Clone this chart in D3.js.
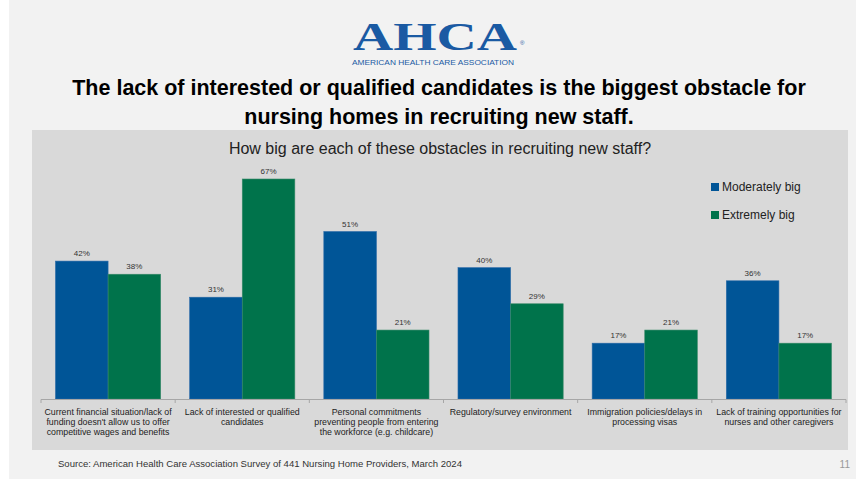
<!DOCTYPE html>
<html><head><meta charset="utf-8">
<script src="https://cdn.jsdelivr.net/npm/d3@7"></script>
<style>body{margin:0;background:#fff}svg{display:block}</style>
</head><body>
<script>
const categories = [
  ["Current financial situation/lack of","funding doesn't allow us to offer","competitive wages and benefits"],
  ["Lack of interested or qualified","candidates"],
  ["Personal commitments","preventing people from entering","the workforce (e.g. childcare)"],
  ["Regulatory/survey environment"],
  ["Immigration policies/delays in","processing visas"],
  ["Lack of training opportunities for","nurses and other caregivers"]
];
const seriesNames = ["Moderately big","Extremely big"];
const moderately = [42,31,51,40,17,36];
const extremely = [38,67,21,29,21,17];
const colors = ["#005597","#00734b"];

const W=856,H=479;
const svg=d3.select("body").append("svg").attr("width",W).attr("height",H);
svg.append("rect").attr("x",9).attr("y",0).attr("width",W-9).attr("height",H).attr("fill","#f2f2f2");
svg.append("rect").attr("x",32).attr("y",130).attr("width",816).attr("height",320).attr("fill","#d9d9d9");

// logo
svg.append("text").attr("x",435).attr("y",50).attr("text-anchor","middle")
  .attr("font-family","Liberation Serif").attr("font-weight","bold").attr("font-size",40)
  .attr("fill","#1a5aa3").attr("textLength",164).attr("lengthAdjust","spacingAndGlyphs").text("AHCA");
svg.append("text").attr("x",520).attr("y",45).attr("font-family","Liberation Sans").attr("font-size",6).attr("fill","#1a5aa3").text("®");
svg.append("text").attr("x",433).attr("y",64.5).attr("text-anchor","middle")
  .attr("font-family","Liberation Sans").attr("font-size",6.5).attr("fill","#1a5aa3")
  .attr("textLength",162).attr("lengthAdjust","spacingAndGlyphs").text("AMERICAN HEALTH CARE ASSOCIATION");

// title
const title=["The lack of interested or qualified candidates is the biggest obstacle for","nursing homes in recruiting new staff."];
title.forEach((t,i)=>svg.append("text").attr("x",439).attr("y",95+i*29).attr("text-anchor","middle")
  .attr("font-family","Liberation Sans").attr("font-weight","bold").attr("font-size",21.5).attr("fill","#000").text(t));

svg.append("text").attr("x",440).attr("y",154).attr("text-anchor","middle")
  .attr("font-family","Liberation Sans").attr("font-size",16).attr("fill","#222").text("How big are each of these obstacles in recruiting new staff?");

const x0=d3.scaleBand().domain(d3.range(categories.length)).range([41,846]).paddingInner(0.216).paddingOuter(0.108);
const x1=d3.scaleBand().domain([0,1]).range([0,x0.bandwidth()]);
const y=d3.scaleLinear().domain([0,67]).range([399,179]);

const g=svg.append("g");
const data=categories.map((c,i)=>[moderately[i],extremely[i]]);
data.forEach((vals,i)=>{
  vals.forEach((v,j)=>{
    const bx=x0(i)+x1(j);
    g.append("rect").attr("x",bx).attr("y",y(v)).attr("width",x1.bandwidth()).attr("height",y(0)-y(v))
      .attr("fill",colors[j]).attr("stroke",j==0?"#2a6aa8":"#3a8a6a").attr("stroke-width",0.6);
    g.append("text").attr("x",bx+x1.bandwidth()/2).attr("y",y(v)-5).attr("text-anchor","middle")
      .attr("font-family","Liberation Sans").attr("font-size",8).attr("fill","#333").text(v+"%");
  });
});

// axis
const axisG=svg.append("g");
axisG.append("line").attr("x1",41).attr("x2",846).attr("y1",399.5).attr("y2",399.5).attr("stroke","#a6a6a6");
d3.range(categories.length+1).forEach(i=>{
  const tx=41+i*(805/categories.length);
  axisG.append("line").attr("x1",tx).attr("x2",tx).attr("y1",399.5).attr("y2",403).attr("stroke","#a6a6a6");
});
categories.forEach((lines,i)=>{
  const cx=x0(i)+x0.bandwidth()/2;
  lines.forEach((l,k)=>svg.append("text").attr("x",cx).attr("y",415+k*10).attr("text-anchor","middle")
    .attr("font-family","Liberation Sans").attr("font-size",8.8).attr("fill","#222").text(l));
});

// legend
seriesNames.forEach((n,i)=>{
  svg.append("rect").attr("x",711).attr("y",183+i*28).attr("width",8).attr("height",8).attr("fill",colors[i]);
  svg.append("text").attr("x",722).attr("y",191+i*28).attr("font-family","Liberation Sans").attr("font-size",12).attr("fill","#222").text(n);
});

svg.append("text").attr("x",58).attr("y",467).attr("font-family","Liberation Sans Narrow, Liberation Sans").attr("font-size",9)
  .attr("textLength",404).attr("lengthAdjust","spacingAndGlyphs")
  .attr("fill","#333").text("Source: American Health Care Association Survey of 441 Nursing Home Providers,  March 2024");
svg.append("text").attr("x",850).attr("y",468).attr("text-anchor","end").attr("font-family","Liberation Sans").attr("font-size",10)
  .attr("fill","#999").text("11");
</script>
</body></html>
